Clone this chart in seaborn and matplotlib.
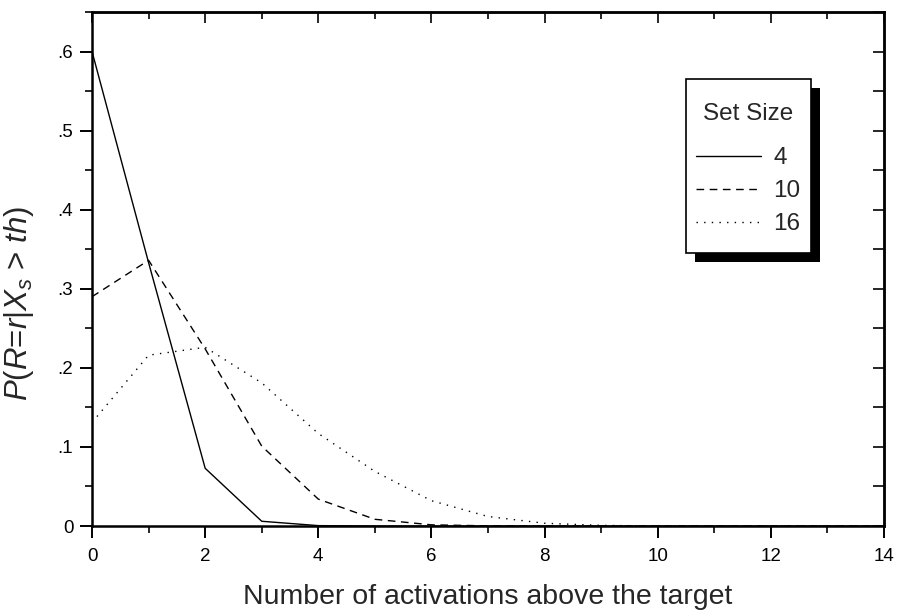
import numpy as np
import pandas as pd
import seaborn as sns
import matplotlib.pyplot as plt
from matplotlib.patches import Rectangle
from matplotlib.ticker import MultipleLocator, FuncFormatter

# values
activations = list(range(15))
set_size_4 = [0.600, 0.333, 0.073, 0.006, 0.0005, 0, 0, 0, 0, 0, 0, 0, 0, 0, 0]
set_size_10 = [0.290, 0.336, 0.224, 0.101, 0.034, 0.0085, 0.0015, 0.0002, 0, 0, 0, 0, 0, 0, 0]
set_size_16 = [0.131, 0.216, 0.226, 0.181, 0.117, 0.069, 0.032, 0.012, 0.0035, 0.0008,
               0.0001, 0, 0, 0, 0]
set_sizes = ["4", "10", "16"]

sns.set_style("ticks")
plt.rcParams["font.family"] = ["Liberation Sans", "DejaVu Sans"]
plt.rcParams["mathtext.fontset"] = "custom"
plt.rcParams["mathtext.rm"] = "Liberation Sans"
plt.rcParams["mathtext.it"] = "Liberation Sans:italic"

df = pd.DataFrame({
    "x": activations * 3,
    "p": set_size_4 + set_size_10 + set_size_16,
    "Set Size": [s for s in set_sizes for _ in activations],
})

fig = plt.figure(figsize=(8.97, 6.12), dpi=100)
ax = fig.add_axes([0.1026, 0.1405, 0.8829, 0.8399])

sns.lineplot(data=df, x="x", y="p", hue="Set Size", style="Set Size",
             palette={s: "black" for s in set_sizes},
             dashes={"4": "", "10": (5.5, 4), "16": (1, 4.5)},
             linewidth=1.0, ax=ax, legend=True)

ax.set_xlim(0, 14)
ax.set_ylim(0, 0.65)
ax.xaxis.set_major_locator(MultipleLocator(2))
ax.xaxis.set_minor_locator(MultipleLocator(1))
ax.yaxis.set_major_locator(MultipleLocator(0.1))
ax.yaxis.set_minor_locator(MultipleLocator(0.05))
ax.yaxis.set_major_formatter(FuncFormatter(
    lambda v, pos: "0" if abs(v) < 1e-9 else f"{v:.1f}".lstrip("0")))

for s in ax.spines.values():
    s.set_linewidth(1.8)
    s.set_color("black")
ax.tick_params(which="major", direction="out", length=8.5, width=1.4, labelsize=13.5,
               colors="black", pad=5)
ax.tick_params(axis="x", which="major", pad=7)
ax.tick_params(which="minor", direction="out", length=5, width=1.4)

# top and right ticks point inwards
top = ax.secondary_xaxis("top")
top.xaxis.set_major_locator(MultipleLocator(2))
top.xaxis.set_minor_locator(MultipleLocator(1))
top.tick_params(which="major", direction="in", length=8, width=1.4, labeltop=False)
top.tick_params(which="minor", direction="in", length=5, width=1.4)
right = ax.secondary_yaxis("right")
right.yaxis.set_major_locator(MultipleLocator(0.1))
right.yaxis.set_minor_locator(MultipleLocator(0.05))
right.tick_params(which="major", direction="in", length=8, width=1.4, labelright=False)
right.tick_params(which="minor", direction="in", length=8, width=1.4)
for sec in (top, right):
    for s in sec.spines.values():
        s.set_linewidth(1.8)

ax.set_xlabel("Number of activations above the target", fontsize=20.5, labelpad=14)
ax.set_ylabel(r"$P$($R$=$r$|$X_s$ > $th$)", fontsize=22.5)
ax.yaxis.set_label_coords(-0.071, 0.434)

handles, labels = ax.get_legend_handles_labels()
leg = ax.legend(handles, labels, title="Set Size", loc="upper left",
                bbox_to_anchor=(0.762, 0.823), fontsize=17.5, title_fontsize=17.5,
                frameon=False, handlelength=2.7, handletextpad=0.5,
                labelspacing=0.45, borderpad=0, borderaxespad=0)
leg._legend_box.sep = 16
leg.set_zorder(5)
for line in leg.get_lines():
    line.set_linewidth(1.0)

# legend box with a hard black drop shadow
bx0, by0, bw, bh = 0.75, 0.531, 0.158, 0.339
dx = 9 / (0.8829 * 897)
dy = 9 / (0.8399 * 612)
ax.add_patch(Rectangle((bx0 + dx, by0 - dy), bw, bh, transform=ax.transAxes,
                       facecolor="black", edgecolor="none", clip_on=False, zorder=4))
ax.add_patch(Rectangle((bx0, by0), bw, bh, transform=ax.transAxes,
                       facecolor="white", edgecolor="black", linewidth=1.2,
                       clip_on=False, zorder=4.5))

fig.savefig("out.png", dpi=100)
